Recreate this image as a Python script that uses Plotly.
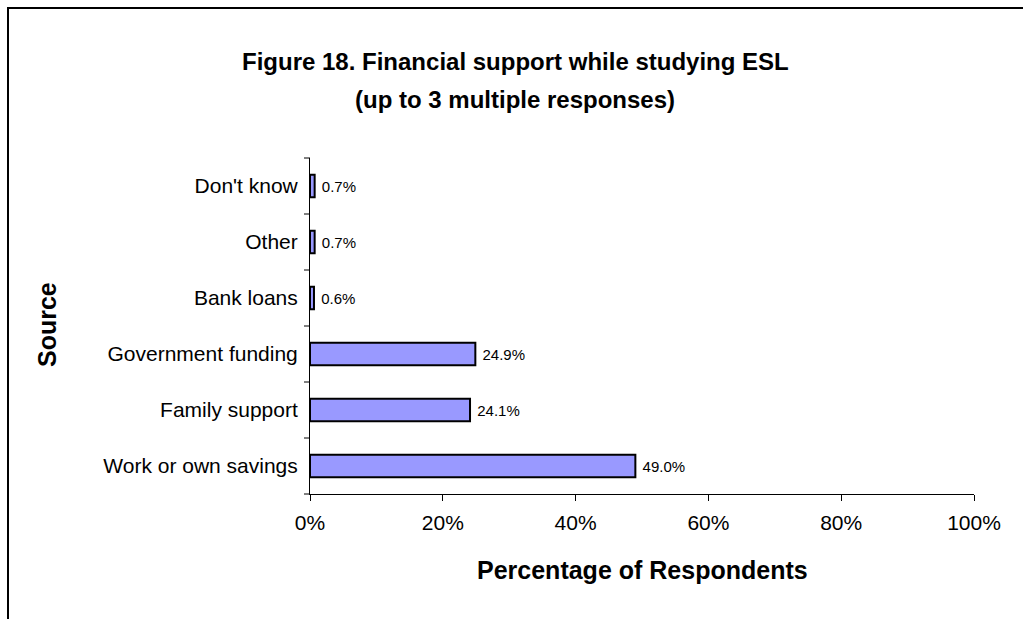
import plotly.graph_objects as go

# Sources of financial support (bottom to top) and share of respondents
sources = ["Work or own savings", "Family support", "Government funding",
           "Bank loans", "Other", "Don't know"]
shares = [0.490, 0.241, 0.249, 0.006, 0.007, 0.007]
x_ticks = [0, 0.2, 0.4, 0.6, 0.8, 1.0]
x_tick_labels = ["0%", "20%", "40%", "60%", "80%", "100%"]

W, H = 1023, 619
L, R, T, B = 310, 49, 158, 125
FONT = "Liberation Sans, Arial"

fig = go.Figure(go.Bar(
    x=shares, y=sources, orientation="h", width=0.4,
    marker=dict(color="#9999FF", line=dict(color="black", width=2)),
    text=[f" {v:.1%}" for v in shares], textposition="outside",
    textfont=dict(size=15, color="black", family=FONT),
    cliponaxis=False,
))

pw, ph = W - L - R, H - T - B


def px(x):
    return (x - L) / pw


def py(y):
    return (H - B - y) / ph


# outer frame around the chart
fig.add_shape(type="rect", xref="paper", yref="paper",
              x0=px(8), x1=px(W + 20), y0=py(H + 20), y1=py(8),
              line=dict(color="black", width=2), layer="below")

# category boundary tick marks on the y axis
for i in range(len(sources) + 1):
    fig.add_shape(type="line", xref="paper", yref="paper",
                  x0=-6 / pw, x1=0, y0=i / len(sources), y1=i / len(sources),
                  line=dict(color="black", width=1))

# chart title (two lines) and axis titles
for text, y in [("Figure 18. Financial support while studying ESL", 62),
                ("(up to 3 multiple responses)", 100)]:
    fig.add_annotation(text=f"<b>{text}</b>", xref="paper", yref="paper",
                       x=px(515), y=py(y), xanchor="center", yanchor="middle",
                       showarrow=False, font=dict(size=24, family=FONT))
fig.add_annotation(text="<b>Percentage of Respondents</b>", xref="paper", yref="paper",
                   x=px(642), y=py(570), xanchor="center", yanchor="middle",
                   showarrow=False, font=dict(size=25, family=FONT))
fig.add_annotation(text="<b>Source</b>", xref="paper", yref="paper", textangle=-90,
                   x=px(47), y=py(325), xanchor="center", yanchor="middle",
                   showarrow=False, font=dict(size=25, family=FONT))

fig.update_layout(
    width=W, height=H, margin=dict(l=L, r=R, t=T, b=B),
    paper_bgcolor="white", plot_bgcolor="white",
    font=dict(family=FONT, color="black", size=21),
    showlegend=False,
    xaxis=dict(range=[0, 1], tickvals=x_ticks, ticktext=x_tick_labels,
               showgrid=False, zeroline=False, showline=True, linecolor="black",
               linewidth=1, ticks="outside", ticklen=6, tickcolor="black",
               tickfont=dict(size=21), ticklabelstandoff=4),
    yaxis=dict(showgrid=False, zeroline=False, showline=True, linecolor="black",
               linewidth=1, ticks="", tickfont=dict(size=21), ticklabelstandoff=7),
)

fig.write_html("out.html")
